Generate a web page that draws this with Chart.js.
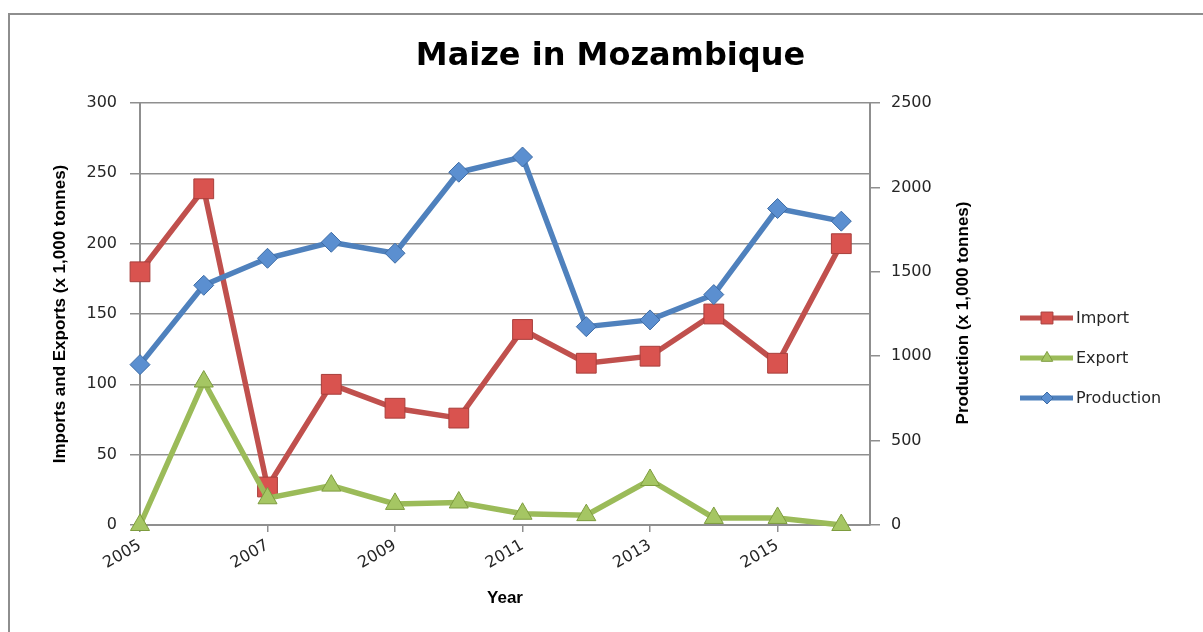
<!DOCTYPE html>
<html lang="en">
<head>
  <meta charset="UTF-8" />
  <title>Maize in Mozambique</title>
  <script src="https://cdn.jsdelivr.net/npm/chart.js"></script>
  <style>
    body { margin: 0; background: #fff; }
    .wrap { position: relative; width: 1203px; height: 632px; overflow: hidden; }
    .frame { position: absolute; left: 8px; top: 13px; width: 1300px; height: 700px;
             border-left: 2px solid #8e8e8e; border-top: 2px solid #8e8e8e; }
    canvas { position: absolute; left: 0; top: 0; }
  </style>
</head>
<body>
  <div class="wrap">
    <div class="frame"></div>
    <canvas id="maizeChart" width="1203" height="632"></canvas>
  </div>

  <script>
    // values (x 1,000 tonnes)
    const years = [2005, 2006, 2007, 2008, 2009, 2010, 2011, 2012, 2013, 2014, 2015, 2016];
    const imports = [180, 239, 27, 100, 83, 76, 139, 115, 120, 150, 115, 200];
    const exports = [0, 102, 19, 28, 15, 16, 8, 7, 32, 5, 5, 0];
    const production = [950, 1420, 1580, 1675, 1610, 2090, 2180, 1175, 1215, 1365, 1875, 1800];
    const xTickYears = [2005, 2007, 2009, 2011, 2013, 2015];
    const seriesNames = ['Import', 'Export', 'Production'];

    const gridGray = '#8f8f8f';
    const textDark = '#262626';

    const series = [
      { name: seriesNames[0], values: imports, axis: 'y', color: '#C0504D', fill: '#D9534F', edge: '#A83F3C', style: 'rect', r: 14, order: 3 },
      { name: seriesNames[1], values: exports, axis: 'y', color: '#9BBB59', fill: '#A5C663', edge: '#7E9C3F', style: 'triangle', r: 11, order: 2 },
      { name: seriesNames[2], values: production, axis: 'y2', color: '#4F81BD', fill: '#5B8FD0', edge: '#3E6CA5', style: 'rectRot', r: 10, order: 1 }
    ];

    function marker(ctx, style, x, y, r) {
      ctx.beginPath();
      if (style === 'rect') {
        const s = r / Math.SQRT2;
        ctx.rect(x - s, y - s, 2 * s, 2 * s);
      } else if (style === 'triangle') {
        ctx.moveTo(x, y - r);
        ctx.lineTo(x + r * 0.866, y + r * 0.5);
        ctx.lineTo(x - r * 0.866, y + r * 0.5);
        ctx.closePath();
      } else {
        ctx.moveTo(x, y - r);
        ctx.lineTo(x + r, y);
        ctx.lineTo(x, y + r);
        ctx.lineTo(x - r, y);
        ctx.closePath();
      }
      ctx.fill();
      ctx.stroke();
    }

    // legend + right axis title drawn by hand (line with marker, bottom-to-top text)
    const extras = {
      id: 'extras',
      afterDraw(chart) {
        const ctx = chart.ctx;
        ctx.save();
        ctx.translate(963, 313);
        ctx.rotate(-Math.PI / 2);
        ctx.font = 'bold 17px "Liberation Sans"';
        ctx.fillStyle = '#000';
        ctx.textAlign = 'center';
        ctx.textBaseline = 'middle';
        ctx.fillText('Production (x 1,000 tonnes)', 0, 0);
        ctx.restore();

        series.forEach((s, i) => {
          const y = 318 + i * 40;
          ctx.save();
          ctx.strokeStyle = s.color;
          ctx.lineWidth = 5;
          ctx.beginPath();
          ctx.moveTo(1020, y);
          ctx.lineTo(1073, y);
          ctx.stroke();
          ctx.fillStyle = s.fill;
          ctx.strokeStyle = s.edge;
          ctx.lineWidth = 1;
          marker(ctx, s.style, 1047, y, s.r * 0.6);
          ctx.fillStyle = textDark;
          ctx.font = '16px "DejaVu Sans"';
          ctx.textBaseline = 'middle';
          ctx.fillText(s.name, 1076, y + 1);
          ctx.restore();
        });
      }
    };

    new Chart(document.getElementById('maizeChart'), {
      type: 'line',
      data: {
        datasets: series.map(s => ({
          label: s.name,
          data: years.map((yr, i) => ({ x: yr, y: s.values[i] })),
          yAxisID: s.axis,
          order: s.order,
          clip: false,
          borderColor: s.color,
          borderWidth: 5.5,
          tension: 0,
          pointStyle: s.style,
          pointRadius: s.r,
          pointBackgroundColor: s.fill,
          pointBorderColor: s.edge,
          pointBorderWidth: 1
        }))
      },
      options: {
        responsive: false,
        animation: false,
        layout: { padding: { left: 18, right: 0, top: 0, bottom: 0 } },
        plugins: {
          legend: { display: false },
          tooltip: { enabled: false },
          title: {
            display: true,
            text: 'Maize in Mozambique',
            color: '#000',
            font: { family: '"DejaVu Sans"', size: 32, weight: 'bold', lineHeight: 1.2 },
            padding: { top: 37, bottom: 27.6 }
          }
        },
        scales: {
          x: {
            type: 'linear',
            min: 2005,
            max: 2016.45,
            afterBuildTicks: scale => { scale.ticks = xTickYears.map(v => ({ value: v })); },
            afterFit: scale => { scale.height = 107; },
            grid: { drawOnChartArea: false, tickLength: 7, color: gridGray, lineWidth: 1.5 },
            border: { color: gridGray, width: 2 },
            ticks: {
              autoSkip: false,
              maxRotation: 30,
              minRotation: 30,
              padding: 4,
              color: textDark,
              font: { family: '"DejaVu Sans"', size: 16 },
              callback: v => String(v)
            },
            title: {
              display: true,
              text: 'Year',
              color: '#000',
              font: { family: '"Liberation Sans"', size: 17, weight: 'bold' },
              padding: { top: 0, bottom: 23 }
            }
          },
          y: {
            position: 'left',
            min: 0,
            max: 300,
            afterFit: scale => { scale.width = 122; },
            ticks: { stepSize: 50, padding: 13, color: textDark, font: { family: '"DejaVu Sans"', size: 16 } },
            grid: { color: gridGray, lineWidth: 1.5, tickLength: 10 },
            border: { color: gridGray, width: 2 },
            title: {
              display: true,
              text: 'Imports and Exports (x 1,000 tonnes)',
              color: '#000',
              font: { family: '"Liberation Sans"', size: 17, weight: 'bold' },
              padding: { top: 32, bottom: 0 }
            }
          },
          y2: {
            position: 'right',
            min: 0,
            max: 2500,
            afterFit: scale => { scale.width = 333; },
            ticks: {
              stepSize: 500,
              padding: 11,
              color: textDark,
              font: { family: '"DejaVu Sans"', size: 16 },
              callback: v => String(v)
            },
            grid: { drawOnChartArea: false, color: gridGray, lineWidth: 1.5, tickLength: 10 },
            border: { color: gridGray, width: 2 }
          }
        }
      },
      plugins: [extras]
    });
  </script>
</body>
</html>
